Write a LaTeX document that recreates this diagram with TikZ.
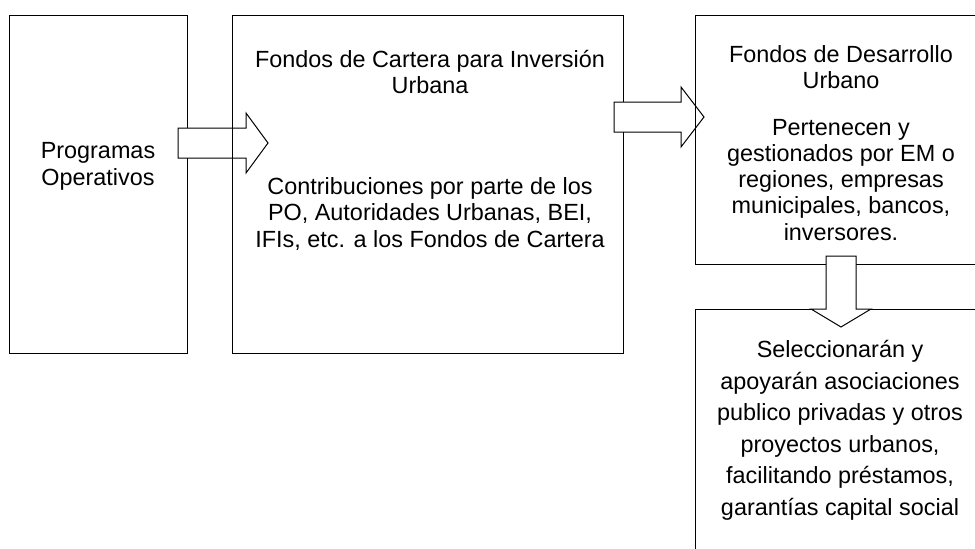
\documentclass[tikz,border=0pt]{standalone}
\usepackage{fontspec}
\setmainfont{Liberation Sans}
\begin{document}
\begin{tikzpicture}[x=1pt,y=-1pt,
  box/.style={draw=black,line width=1pt,fill=white},
  boxline/.style={draw=black,line width=1pt},
  blockarrow/.style={draw=black,line width=1pt,fill=white,line join=miter},
  txt/.style={inner sep=0pt,anchor=base,font=\fontsize{23.4}{26.4}\selectfont}]
\useasboundingbox (0,0) rectangle (975,549);
% boxes
\path[box] (9,15) rectangle (187,353);
\coordinate (b1) at (98,184);
\path[box] (232,15) rectangle (623,353);
\path[box] (695,15) rectangle (987,264);
\path[box] (695,309) rectangle (987,560);
% block arrows
\draw[blockarrow] (178,128) -- (246,128) -- (246,113) -- (268,143) -- (246,173) -- (246,158) -- (178,158) -- cycle;
\draw[blockarrow] (614,102) -- (681,102) -- (681,87) -- (704,117) -- (681,147) -- (681,132) -- (614,132) -- cycle;
\draw[blockarrow] (826,256) -- (856,256) -- (856,309) -- (871,309) -- (841,327) -- (811,309) -- (826,309) -- cycle;
% box edges crossing arrow heads
\draw[boxline] (232,110) -- (232,176);
\draw[boxline] (695,84) -- (695,150);
% texts
\node[txt] (t1a) at (98,158.3) {Programas};
\node[txt] (t1b) at (98,185) {Operativos};
\node[txt] (t2a) at (430,67.3) {Fondos de Cartera para Inversión};
\node[txt] (t2b) at (430,93.3) {Urbana};
\node[txt] (t2c) at (430,194) {Contribuciones por parte de los};
\node[txt] (t2d) at (430,220.5) {PO, Autoridades Urbanas, BEI,};
\node[txt] (t2e) at (430,247) {IFIs, etc. a los Fondos de Cartera};
\node[txt] (t3a) at (841,62.3) {Fondos de Desarrollo};
\node[txt] (t3b) at (841,88.3) {Urbano};
\node[txt] (t3c) at (841,135) {Pertenecen y};
\node[txt] (t3d) at (841,161) {gestionados por EM o};
\node[txt] (t3e) at (841,187.3) {regiones, empresas};
\node[txt] (t3f) at (841,213.6) {municipales, bancos,};
\node[txt] (t3g) at (841,240) {inversores.};
\node[txt] (t4a) at (840,357.5) {Seleccionarán y};
\node[txt] (t4b) at (840,389) {apoyarán asociaciones};
\node[txt] (t4c) at (840,420.5) {publico privadas y otros};
\node[txt] (t4d) at (840,452) {proyectos urbanos,};
\node[txt] (t4e) at (840,483.5) {facilitando préstamos,};
\node[txt] (t4f) at (840,515) {garantías capital social};
\end{tikzpicture}
\end{document}
